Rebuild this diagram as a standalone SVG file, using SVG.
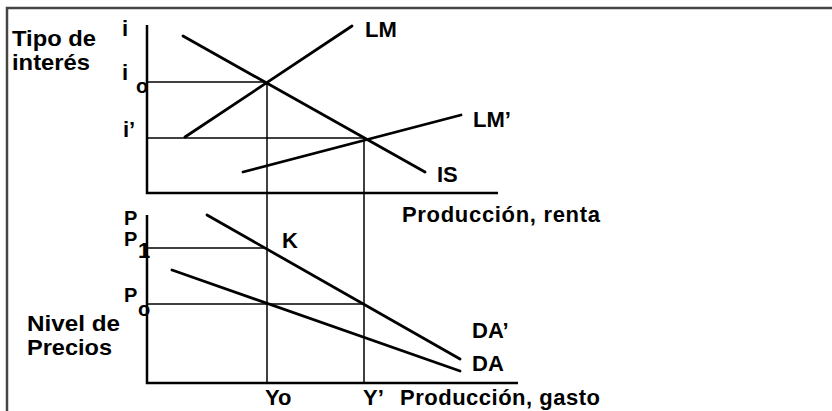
<svg xmlns="http://www.w3.org/2000/svg" width="832" height="411" viewBox="0 0 832 411">
<style>
text{font-family:"Liberation Sans",Arial,sans-serif;font-weight:bold;fill:#000}
.lbl{font-size:22px}
.big{font-size:22px}
.pp{font-size:20px}
.sub{font-size:20px}
.axis{stroke:#000;stroke-width:2.5;fill:none}
.guide{stroke:#000;stroke-width:1.5;fill:none}
.curve{stroke:#000;stroke-width:2.8;fill:none;stroke-linecap:round}
.frame{stroke:#444;stroke-width:2.5;fill:none}
</style>
<rect width="832" height="411" fill="#fff"/>
<g id="frame">
<path class="frame" d="M7 411 V8 H832"/>
</g>
<g id="axes">
<path class="axis" d="M147 25 V193 H498"/>
<path class="axis" d="M147 215 V383 H518"/>
</g>
<g id="connectors">
<path class="guide" d="M147 82 H266"/>
<path class="guide" d="M147 138 H364"/>
<path class="guide" d="M147 248 H267"/>
<path class="guide" d="M147 304 H364"/>
<path class="guide" d="M267 83 V383"/>
<path class="guide" d="M364 138 V383"/>
</g>
<g id="LM"><path class="curve" d="M185 137 L352 26"/><text class="lbl" x="365" y="37">LM</text></g>
<g id="IS"><path class="curve" d="M183 36 L425 172"/><text class="lbl" x="437" y="182">IS</text></g>
<g id="LMp"><path class="curve" d="M243 172 L461 115"/><text class="lbl" x="473" y="127">LM’</text></g>
<g id="DAp"><path class="curve" d="M207 215 L460 359"/><text class="lbl" x="472" y="338">DA’</text></g>
<g id="DA"><path class="curve" d="M172 270 L460 371"/><text class="lbl" x="472" y="371">DA</text></g>
<g id="K"><text class="lbl" x="282" y="248">K</text></g>
<g id="labels-upper">
<text class="big" x="12" y="46" textLength="84" lengthAdjust="spacingAndGlyphs">Tipo de</text>
<text class="big" x="12" y="70" textLength="78" lengthAdjust="spacingAndGlyphs">interés</text>
<text class="lbl" x="122" y="36">i</text>
<text class="lbl" x="122" y="80">i</text>
<text class="sub" x="136" y="93">o</text>
<text class="lbl" x="123" y="137">i’</text>
<text class="lbl" x="402" y="222" textLength="198" lengthAdjust="spacing">Producción, renta</text>
</g>
<g id="labels-lower">
<text class="pp" x="124" y="225">P</text>
<text class="pp" x="124" y="246">P</text>
<text class="lbl" x="138" y="258">1</text>
<text class="pp" x="124" y="302">P</text>
<text class="sub" x="138" y="316">o</text>
<text class="big" x="27" y="331" textLength="93" lengthAdjust="spacingAndGlyphs">Nivel de</text>
<text class="big" x="27" y="355" textLength="85" lengthAdjust="spacingAndGlyphs">Precios</text>
<text class="lbl" x="265" y="405">Yo</text>
<text class="lbl" x="363" y="405">Y’</text>
<text class="lbl" x="400" y="405" textLength="200" lengthAdjust="spacing">Producción, gasto</text>
</g>
</svg>
